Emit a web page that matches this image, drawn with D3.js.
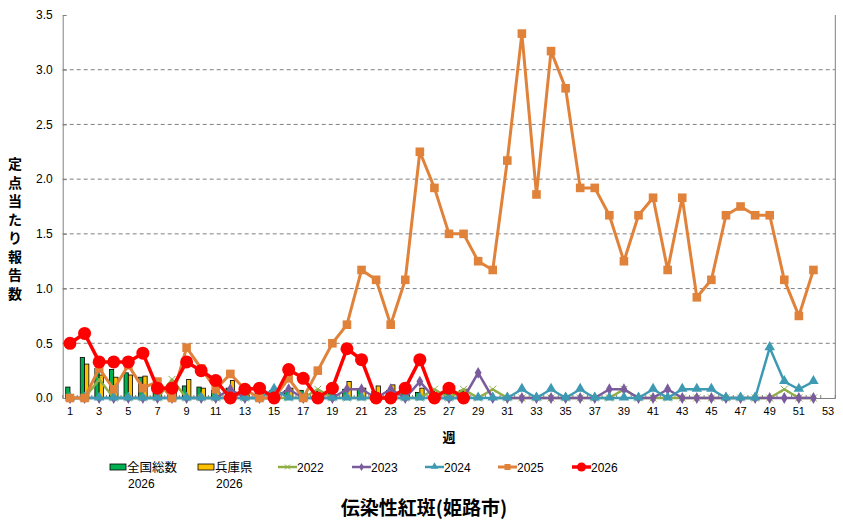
<!DOCTYPE html>
<html>
<head>
<meta charset="utf-8">
<script src="https://cdn.jsdelivr.net/npm/d3@7"></script>
<style>
  body { margin: 0; background: #fff; }
  text { font-family: "Liberation Sans", Arial, "Noto Sans CJK JP", sans-serif; }
  .jp { font-family: "Noto Sans CJK JP", sans-serif; }
</style>
</head>
<body>
<div id="chart"></div>
<script>
// weeks 1..53
var weeks = d3.range(1, 54);
var yTicks = [0, 0.5, 1.0, 1.5, 2.0, 2.5, 3.0, 3.5];

// bars (2026)
var national2026 = [0.10, 0.37, 0.27, 0.26, 0.23, 0.19, 0.12, 0.11, 0.11, 0.10,
  0.07, 0.09, 0.06, 0.06, 0.07, 0.07, 0.07, 0.06, 0.06, 0.08,
  0.08, 0.06, 0.07, 0.07, 0.05, 0.06, 0.05, 0.07];
var hyogo2026 = [0.00, 0.31, 0.21, 0.19, 0.21, 0.20, 0.08, 0.07, 0.17, 0.09,
  0.05, 0.16, 0.03, 0.04, 0.03, 0.09, 0.04, 0.00, 0.03, 0.15,
  0.09, 0.11, 0.12, 0.05, 0.09, 0.03, 0.07, 0.08];

// lines
var s2022 = [0, 0, 0.17, 0, 0, 0, 0, 0.17, 0, 0,
  0, 0, 0, 0, 0, 0, 0, 0.08, 0, 0,
  0, 0, 0, 0, 0, 0.08, 0, 0.08, 0, 0.08,
  0, 0, 0, 0, 0, 0, 0, 0, 0.08, 0,
  0, 0, 0, 0, 0, 0, 0, 0, 0, 0.08,
  0, 0];
var s2023 = [0, 0, 0, 0, 0, 0, 0, 0, 0, 0,
  0, 0.08, 0, 0, 0, 0.08, 0, 0, 0, 0.08,
  0.08, 0, 0.08, 0, 0.15, 0, 0, 0, 0.23, 0,
  0, 0, 0, 0, 0, 0, 0, 0.08, 0.08, 0,
  0, 0.08, 0, 0, 0, 0, 0, 0, 0, 0,
  0, 0];
var s2024 = [0, 0, 0, 0, 0, 0, 0, 0, 0, 0,
  0, 0, 0, 0, 0.08, 0, 0, 0, 0, 0,
  0, 0, 0, 0, 0, 0, 0, 0, 0, 0,
  0, 0.08, 0, 0.08, 0, 0.08, 0, 0, 0, 0,
  0.08, 0, 0.08, 0.08, 0.08, 0, 0, 0, 0.46, 0.15,
  0.08, 0.15];
var s2025 = [0, 0, 0.27, 0.08, 0.30, 0.09, 0.15, 0, 0.46, 0.27,
  0.08, 0.22, 0.08, 0, 0, 0.18, 0, 0.25, 0.50, 0.67,
  1.17, 1.08, 0.67, 1.08, 2.25, 1.92, 1.50, 1.50, 1.25, 1.17,
  2.17, 3.33, 1.86, 3.17, 2.83, 1.92, 1.92, 1.67, 1.25, 1.67,
  1.83, 1.17, 1.83, 0.92, 1.08, 1.67, 1.75, 1.67, 1.67, 1.08,
  0.75, 1.17];
var s2026 = [0.50, 0.59, 0.33, 0.33, 0.33, 0.41, 0.09, 0.09, 0.33, 0.25,
  0.16, 0, 0.08, 0.09, 0, 0.26, 0.18, 0, 0.09, 0.45,
  0.35, 0, 0, 0.09, 0.35, 0, 0.09, 0];

var W = 843, H = 526;
var plotLeft = 62.7, plotRight = 835.3, plotTop = 15, plotBottom = 398;

var svg = d3.select("#chart").append("svg")
  .attr("width", W).attr("height", H);

var x = d3.scaleBand().domain(weeks).range([plotLeft, plotRight]).padding(0);
var y = d3.scaleLinear().domain([0, 3.5]).range([plotBottom, plotTop]);
var xSub = d3.scaleBand().domain(["n", "h"]).range([0, x.bandwidth()])
  .paddingInner(0).paddingOuter(0.7);

function cx(i) { return x(weeks[i]) + x.bandwidth() / 2; }

// gridlines
svg.append("g").selectAll("line")
  .data(yTicks.filter(function(d) { return d > 0 && d < 3.5; }))
  .enter().append("line")
  .attr("x1", plotLeft).attr("x2", plotRight)
  .attr("y1", function(d) { return y(d); })
  .attr("y2", function(d) { return y(d); })
  .attr("stroke", "#808080").attr("stroke-width", 1)
  .attr("stroke-dasharray", "4,3");

// y axis
var yAxis = svg.append("g")
  .attr("transform", "translate(" + plotLeft + ",0)")
  .call(d3.axisLeft(y).tickValues(yTicks).tickFormat(d3.format(".1f"))
    .tickSizeInner(-4).tickSizeOuter(0).tickPadding(10));
yAxis.select(".domain").attr("stroke", "#808080");
yAxis.selectAll(".tick line").attr("stroke", "#808080");
yAxis.selectAll("text").attr("font-size", 12).attr("fill", "#000")
  .style("font-family", "'Liberation Sans', Arial, sans-serif");

// right border
svg.append("line")
  .attr("x1", plotRight).attr("x2", plotRight).attr("y1", plotTop).attr("y2", plotBottom)
  .attr("stroke", "#808080");

// x axis
var xAxis = svg.append("g")
  .attr("transform", "translate(0," + plotBottom + ")")
  .call(d3.axisBottom(x)
    .tickFormat(function(d) { return d % 2 === 1 ? d : ""; })
    .tickSize(0).tickPadding(9));
xAxis.select(".domain").attr("stroke", "#808080");
xAxis.selectAll("text").attr("font-size", 11).attr("fill", "#000")
  .style("font-family", "'Liberation Sans', Arial, sans-serif");
// small ticks at band boundaries
svg.append("g").selectAll("line")
  .data(weeks.concat([54]))
  .enter().append("line")
  .attr("x1", function(d, i) { return plotLeft + i * x.bandwidth(); })
  .attr("x2", function(d, i) { return plotLeft + i * x.bandwidth(); })
  .attr("y1", plotBottom).attr("y2", plotBottom - 3)
  .attr("stroke", "#808080");

// bars
var barG = svg.append("g");
barG.selectAll(".bn").data(national2026).enter().append("rect")
  .attr("x", function(d, i) { return x(weeks[i]) + xSub("n"); })
  .attr("width", xSub.bandwidth())
  .attr("y", function(d) { return y(d); })
  .attr("height", function(d) { return plotBottom - y(d); })
  .attr("fill", "#00b050").attr("stroke", "#000").attr("stroke-width", 0.8);
barG.selectAll(".bh").data(hyogo2026).enter().append("rect")
  .attr("x", function(d, i) { return x(weeks[i]) + xSub("h"); })
  .attr("width", xSub.bandwidth())
  .attr("y", function(d) { return y(d); })
  .attr("height", function(d) { return plotBottom - y(d); })
  .attr("fill", "#ffc000").attr("stroke", "#000").attr("stroke-width", 0.8);

var line = d3.line()
  .x(function(d, i) { return cx(i); })
  .y(function(d) { return y(d); });

var series = [
  { name: "2022", data: s2022, color: "#8fae45", width: 2.5, marker: "x" },
  { name: "2023", data: s2023, color: "#7a5c9c", width: 2.5, marker: "diamond" },
  { name: "2024", data: s2024, color: "#3e9ab3", width: 2.5, marker: "triangle" },
  { name: "2025", data: s2025, color: "#e0823a", width: 3, marker: "square" },
  { name: "2026", data: s2026, color: "#ff0000", width: 3.5, marker: "circle" }
];

function drawMarker(g, type, color, px, py, scale) {
  var s = scale || 1;
  if (type === "x") {
    var r = 3.5 * s;
    g.append("path")
      .attr("d", "M" + (px - r) + "," + (py - r) + "L" + (px + r) + "," + (py + r) +
        "M" + (px - r) + "," + (py + r) + "L" + (px + r) + "," + (py - r))
      .attr("stroke", color).attr("stroke-width", 1).attr("fill", "none");
  } else if (type === "diamond") {
    g.append("path")
      .attr("d", d3.symbol().type(d3.symbolDiamond).size(40 * s * s)())
      .attr("transform", "translate(" + px + "," + py + ")")
      .attr("fill", color);
  } else if (type === "triangle") {
    g.append("path")
      .attr("d", d3.symbol().type(d3.symbolTriangle).size(48 * s * s)())
      .attr("transform", "translate(" + px + "," + (py - 0.5) + ")")
      .attr("fill", color);
  } else if (type === "square") {
    var h = 4.3 * s;
    g.append("rect")
      .attr("x", px - h).attr("y", py - h).attr("width", 2 * h).attr("height", 2 * h)
      .attr("fill", color);
  } else if (type === "circle") {
    g.append("circle").attr("cx", px).attr("cy", py).attr("r", 6.5 * s)
      .attr("fill", color);
  }
}

series.forEach(function(s) {
  var g = svg.append("g");
  g.append("path").datum(s.data)
    .attr("d", line)
    .attr("fill", "none").attr("stroke", s.color)
    .attr("stroke-width", s.width).attr("stroke-linejoin", "round");
  s.data.forEach(function(v, i) {
    drawMarker(g, s.marker, s.color, cx(i), y(v));
  });
});

// axis titles
svg.append("text").attr("class", "jp")
  .attr("x", 449).attr("y", 442).attr("text-anchor", "middle")
  .attr("font-size", 13).attr("font-weight", "bold").text("週");

var yTitle = "定点当たり報告数".split("");
svg.append("g").selectAll("text").data(yTitle).enter().append("text")
  .attr("class", "jp")
  .attr("x", 15).attr("y", function(d, i) { return 169 + i * 18.5; })
  .attr("text-anchor", "middle").attr("font-size", 14).attr("font-weight", "bold")
  .text(function(d) { return d; });

// legend
var lg = svg.append("g");
var barLegend = [
  { x: 110, color: "#00b050", l1: "全国総数", l2: "2026" },
  { x: 198, color: "#ffc000", l1: "兵庫県", l2: "2026" }
];
barLegend.forEach(function(b) {
  lg.append("rect").attr("x", b.x).attr("y", 464).attr("width", 16).attr("height", 6)
    .attr("fill", b.color).attr("stroke", "#000").attr("stroke-width", 0.8);
  lg.append("text").attr("class", "jp").attr("x", b.x + 17).attr("y", 472)
    .attr("font-size", 12.5).text(b.l1);
  lg.append("text").attr("x", b.x + 18).attr("y", 487.5)
    .attr("font-size", 12).text(b.l2);
});
var lineLegendX = [278, 352, 425, 498, 572];
series.forEach(function(s, i) {
  var lx = lineLegendX[i];
  lg.append("line").attr("x1", lx).attr("x2", lx + 19).attr("y1", 467).attr("y2", 467)
    .attr("stroke", s.color).attr("stroke-width", s.width);
  drawMarker(lg, s.marker, s.color, lx + 9.5, 467, 0.7);
  lg.append("text").attr("x", lx + 19).attr("y", 471.5)
    .attr("font-size", 12).text(s.name);
});

// title
svg.append("text").attr("class", "jp")
  .attr("x", 424).attr("y", 515).attr("text-anchor", "middle")
  .attr("font-size", 19).attr("font-weight", "bold").text("伝染性紅斑(姫路市)");
</script>
</body>
</html>
